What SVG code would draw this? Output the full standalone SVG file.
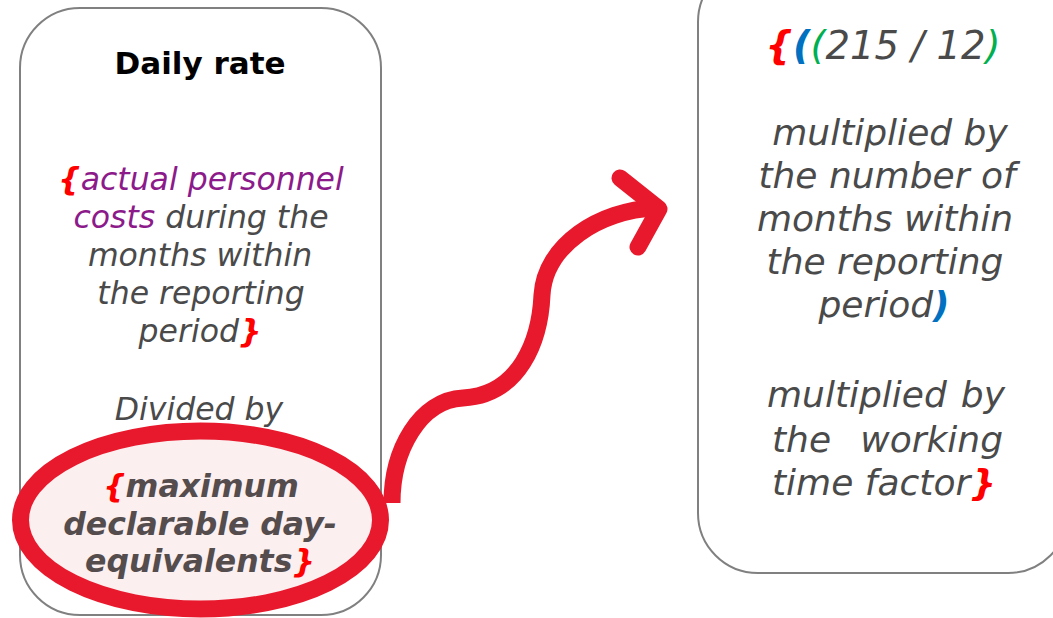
<svg xmlns="http://www.w3.org/2000/svg" width="1053" height="618" viewBox="0 0 1053 618">
<style>
.box{fill:#ffffff;stroke:#808080;stroke-width:2}
.t{font-family:"DejaVu Sans",Verdana,sans-serif;font-style:italic;fill:#4a4a4a;text-anchor:middle}
.l{font-size:31.5px}
.r{font-size:36px}
.title{font-family:"DejaVu Sans",Verdana,sans-serif;font-weight:bold;font-size:31px;fill:#000000;text-anchor:middle}
.br{fill:#ff0000;font-weight:bold}
.pu{fill:#8c1a8a}
.em{font-weight:bold;fill:#544c4d}
.blue{fill:#0070c0;font-weight:bold}
.green{fill:#00b050}
.hl{fill:#fbeff0;stroke:#e8192c;stroke-width:17}
.arrow{fill:none;stroke:#e8192c;stroke-width:17}
</style>
<rect width="1053" height="618" fill="#ffffff"/>
<g id="node-daily-rate">
<rect class="box" x="20" y="8" width="361" height="607" rx="60" ry="60"/>
<text class="title" x="200" y="74">Daily rate</text>
<text class="t l" x="201" y="190"><tspan class="br">{</tspan><tspan class="pu">actual personnel</tspan></text>
<text class="t l" x="201" y="228"><tspan class="pu">costs</tspan> during the</text>
<text class="t l" x="200" y="266">months within</text>
<text class="t l" x="201" y="304">the reporting</text>
<text class="t l" x="200" y="342">period<tspan class="br">}</tspan></text>
<text class="t l" x="199" y="420">Divided by</text>
</g>
<g id="node-day-equivalents">
<ellipse class="hl" cx="200.5" cy="520" rx="180" ry="89"/>
<text class="t l em" x="201" y="497"><tspan class="br">{</tspan>maximum</text>
<text class="t l em" x="200" y="535">declarable day-</text>
<text class="t l em" x="200" y="572">equivalents<tspan class="br">}</tspan></text>
</g>
<g id="node-formula">
<rect class="box" x="698" y="-38" width="370" height="611" rx="60" ry="60"/>
<text class="t" style="font-size:38.5px" x="883" y="59"><tspan class="br">{</tspan><tspan class="blue">(</tspan><tspan class="green">(</tspan>215 / 12<tspan class="green">)</tspan></text>
<text class="t r" x="890" y="145">multiplied by</text>
<text class="t r" x="887" y="188">the number of</text>
<text class="t r" x="885" y="231">months within</text>
<text class="t r" x="885" y="274">the reporting</text>
<text class="t r" x="884" y="317">period<tspan class="blue">)</tspan></text>
<text class="t r" x="767" y="407" style="text-anchor:start">multiplied</text>
<text class="t r" x="1005" y="407" style="text-anchor:end">by</text>
<text class="t r" x="772" y="452" style="text-anchor:start">the</text>
<text class="t r" x="1003" y="452" style="text-anchor:end">working</text>
<text class="t r" x="772" y="495" style="text-anchor:start">time factor<tspan class="br">}</tspan></text>
</g>
<g id="connectors">
<path class="arrow" d="M392,503 C392,450 420,400 463,398 C520,395 540,340 542,295 C545,245 600,210 655,208"/>
<path class="arrow" stroke-linecap="round" stroke-linejoin="round" d="M620,178 L659,209 L638,247"/>
</g>
</svg>
